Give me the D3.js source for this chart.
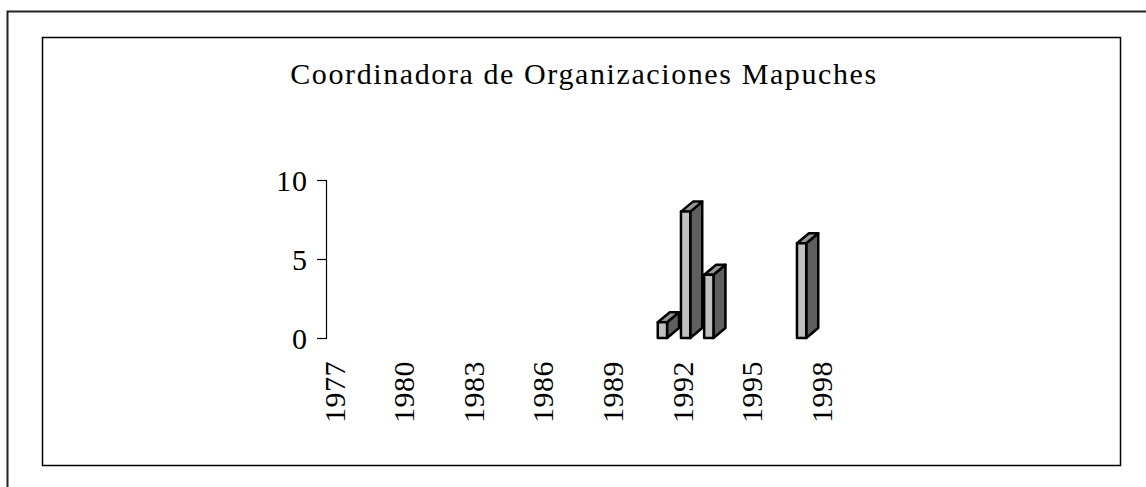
<!DOCTYPE html>
<html>
<head>
<meta charset="utf-8">
<script src="https://cdn.jsdelivr.net/npm/d3@7"></script>
<style>
  body { margin: 0; background: #fff; }
  svg { display: block; }
</style>
</head>
<body>
<div id="chart"></div>
<script>
var years = ['1977', '1978', '1979', '1980', '1981', '1982', '1983', '1984', '1985', '1986', '1987',
  '1988', '1989', '1990', '1991', '1992', '1993', '1994', '1995', '1996', '1997', '1998']
var counts = [0, 0, 0, 0, 0, 0, 0, 0, 0, 0, 0, 0, 0, 0, 1, 8, 4, 0, 0, 0, 6, 0]
var yTicks = [0, 5, 10]
var xLabels = ['1977', '1980', '1983', '1986', '1989', '1992', '1995', '1998']
var title = 'Coordinadora de Organizaciones Mapuches'

var W = 1146
var H = 487
var margin = { top: 180, left: 326, right: 310, bottom: 149 }
// depth of the 3d bars
var depthX = 12
var depthY = 10
var font = '"Liberation Serif", "Times New Roman", serif'

var data = years.map((y, i) => ({ year: y, value: counts[i] }))

var svg = d3
  .select('#chart')
  .append('svg')
  .attr('width', W)
  .attr('height', H)

// outer frame (runs off the page on the right and bottom)
svg
  .append('rect')
  .attr('x', 7.5)
  .attr('y', 11.5)
  .attr('width', W)
  .attr('height', H)
  .attr('fill', 'none')
  .attr('stroke', '#222')
  .attr('stroke-width', 2)

// chart area frame
svg
  .append('rect')
  .attr('x', 42.5)
  .attr('y', 37.5)
  .attr('width', 1078)
  .attr('height', 428)
  .attr('fill', 'none')
  .attr('stroke', '#000')
  .attr('stroke-width', 1.5)

svg
  .append('text')
  .text(title)
  .attr('x', 584)
  .attr('y', 84)
  .attr('text-anchor', 'middle')
  .attr('font-family', font)
  .attr('font-size', 30)
  .attr('letter-spacing', 1.6)
  .attr('fill', '#000')

var g = svg.append('g').attr('transform', `translate(${margin.left},${margin.top})`)

var xScale = d3
  .scaleBand()
  .domain(years)
  .range([0, 22 * 23.2])
  .paddingInner(0.6)
  .paddingOuter(0.3)

var yScale = d3
  .scaleLinear()
  .domain([0, 10])
  .range([158, 0])

// y axis
var yAxis = g
  .append('g')
  .call(
    d3
      .axisLeft(yScale)
      .tickValues(yTicks)
      .tickSize(9)
      .tickPadding(9)
  )
yAxis.select('.domain').attr('stroke', '#000').attr('stroke-width', 1.2)
yAxis.selectAll('.tick line').attr('stroke', '#000').attr('stroke-width', 1.2)
yAxis
  .selectAll('.tick text')
  .attr('font-family', font)
  .attr('font-size', 30)
  .attr('letter-spacing', 1)
  .attr('fill', '#000')
  .attr('dy', '0.34em')

// x labels, rotated, every third year
var step = xScale.step()
g.append('g')
  .selectAll('text')
  .data(xLabels)
  .enter()
  .append('text')
  .text(d => d)
  .attr('transform', d => {
    var cx = years.indexOf(d) * step + step / 2
    return `translate(${cx + 7},181) rotate(-90)`
  })
  .attr('text-anchor', 'end')
  .attr('font-family', font)
  .attr('font-size', 30)
  .attr('letter-spacing', 0.5)
  .attr('fill', '#000')

// 3d columns
var bars = g
  .append('g')
  .selectAll('g')
  .data(data.filter(d => d.value > 0))
  .enter()
  .append('g')

bars.each(function(d) {
  var bar = d3.select(this)
  var x0 = xScale(d.year)
  var x1 = x0 + xScale.bandwidth()
  var y0 = yScale(0)
  var y1 = yScale(d.value)

  // side
  bar
    .append('path')
    .attr('d', `M${x1},${y0}L${x1 + depthX},${y0 - depthY}L${x1 + depthX},${y1 - depthY}L${x1},${y1}Z`)
    .attr('fill', '#5f5f5f')
  // top
  bar
    .append('path')
    .attr('d', `M${x0},${y1}L${x0 + depthX},${y1 - depthY}L${x1 + depthX},${y1 - depthY}L${x1},${y1}Z`)
    .attr('fill', '#969696')
  // front
  bar
    .append('rect')
    .attr('x', x0)
    .attr('y', y1)
    .attr('width', x1 - x0)
    .attr('height', y0 - y1)
    .attr('fill', '#c0c0c0')

  bar
    .selectAll('path, rect')
    .attr('stroke', '#000')
    .attr('stroke-width', 2.5)
    .attr('stroke-linejoin', 'round')
})
</script>
</body>
</html>
